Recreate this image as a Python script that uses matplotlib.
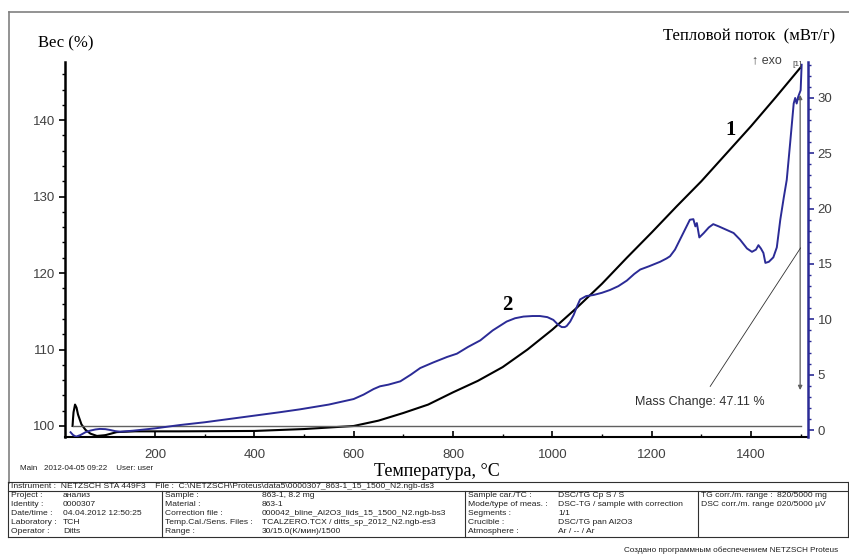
import matplotlib
matplotlib.use("Agg")
import matplotlib.pyplot as plt
from matplotlib.lines import Line2D
from matplotlib.ticker import MultipleLocator

W, H = 849, 557

# ТГ кривая (1), вес %
tg_t = [34, 35, 36, 39, 42, 45, 52, 60, 70, 83, 100, 123, 160, 250, 400, 500,
        600, 650, 700, 750, 800, 850, 900, 950, 1000, 1050, 1100, 1150, 1200,
        1250, 1300, 1350, 1400, 1450, 1500]
tg_w = [100.0, 101.0, 101.8, 102.8, 102.4, 101.5, 100.2, 99.5, 99.0, 98.7, 98.8,
        99.2, 99.3, 99.3, 99.35, 99.6, 100.0, 100.7, 101.7, 102.8, 104.4, 105.9,
        107.7, 110.0, 112.6, 115.5, 118.6, 122.0, 125.3, 128.7, 132.0, 135.6,
        139.2, 143.0, 146.9]

# ДСК кривая (2), тепловой поток мВт/г
dsc_t = [30, 35, 41, 50, 60, 69, 80, 89, 100, 110, 120, 130, 145, 156, 200, 250,
         300, 350, 400, 450, 492, 550, 600, 620, 640, 653, 670, 694, 715, 734,
         760, 788, 808, 830, 855, 880, 908, 925, 942, 960, 975, 990, 1002, 1012,
         1019, 1025, 1029, 1036, 1043, 1050, 1056, 1068, 1083, 1100, 1116, 1133,
         1150, 1165, 1177, 1195, 1217, 1230, 1237, 1247, 1257, 1267, 1277, 1284,
         1288, 1291, 1296, 1305, 1315, 1324, 1335, 1350, 1365, 1378, 1392, 1402,
         1410, 1415, 1420, 1425, 1429, 1436, 1445, 1452, 1459, 1466, 1472, 1479,
         1486, 1489, 1492, 1495, 1500, 1502]
dsc_q = [-0.2, -0.45, -0.6, -0.45, -0.2, -0.06, 0.05, 0.1, 0.08, 0.0, -0.1, -0.15,
         -0.1, -0.06, 0.15, 0.45, 0.7, 1.0, 1.3, 1.6, 1.87, 2.3, 2.8, 3.2, 3.7,
         3.95, 4.1, 4.4, 5.0, 5.6, 6.1, 6.6, 6.9, 7.5, 8.1, 9.0, 9.8, 10.1, 10.25,
         10.3, 10.3, 10.2, 9.95, 9.5, 9.3, 9.3, 9.4, 9.8, 10.4, 11.2, 11.8, 12.1,
         12.2, 12.4, 12.65, 13.0, 13.5, 14.1, 14.5, 14.8, 15.2, 15.5, 15.7, 16.3,
         17.2, 18.1, 19.0, 19.05, 18.4, 18.7, 17.4, 17.8, 18.3, 18.6, 18.4, 18.1,
         17.8, 17.2, 16.4, 16.1, 16.3, 16.7, 16.4, 16.0, 15.1, 15.2, 15.6, 16.5,
         19.0, 21.0, 22.6, 26.0, 29.5, 30.0, 29.5, 30.1, 30.7, 33.0]

mass_change = 47.11

blue = "#2b2b96"
grey_txt = "#404040"
sans = ["Liberation Sans", "DejaVu Sans"]
serif = ["Liberation Serif", "DejaVu Serif"]
plt.rcParams["font.family"] = sans


def fx(x):
    return x / W


def fy(y):
    return 1 - y / H


fig = plt.figure(figsize=(W / 100, H / 100), dpi=100)
ax = fig.add_axes([fx(65), fy(437), (808 - 65) / W, (437 - 62) / H])
ax2 = ax.twinx()

ax.plot(tg_t, tg_w, color="black", lw=1.5)
ax.plot([tg_t[0], 1500], [100, 100], color="#606060", lw=1.0)
ax2.plot(dsc_t, dsc_q, color=blue, lw=1.4)

ax.set_xlim(18.8, 1514.8)
ax.set_ylim(98.56, 147.6)
ax2.set_ylim(-0.63, 33.25)

for a in (ax, ax2):
    a.spines["top"].set_visible(False)
ax.spines["right"].set_visible(False)
ax2.spines["left"].set_visible(False)
ax2.spines["bottom"].set_visible(False)
ax.spines["left"].set_linewidth(1.8)
ax.spines["bottom"].set_linewidth(1.5)
ax2.spines["right"].set_color(blue)
ax2.spines["right"].set_linewidth(1.8)

ax.xaxis.set_major_locator(MultipleLocator(200))
ax.xaxis.set_minor_locator(MultipleLocator(100))
ax.yaxis.set_major_locator(MultipleLocator(10))
ax.yaxis.set_minor_locator(MultipleLocator(2))
ax2.yaxis.set_major_locator(MultipleLocator(5))
ax2.yaxis.set_minor_locator(MultipleLocator(1))
ax.set_xticks([200, 400, 600, 800, 1000, 1200, 1400])

ax.tick_params(axis="x", which="major", direction="in", length=4, width=1.2,
               labelsize=9.5, labelcolor=grey_txt, pad=9)
ax.tick_params(axis="x", which="minor", direction="in", length=2.5, width=1)
ax.tick_params(axis="y", which="major", direction="out", length=4, width=1.2,
               labelsize=9.5, labelcolor=grey_txt, pad=3)
ax.tick_params(axis="y", which="minor", direction="out", length=2.5, width=1)
ax2.tick_params(axis="y", which="major", direction="out", length=4, width=1.2,
                color=blue, labelsize=9.5, labelcolor=grey_txt, pad=3)
ax2.tick_params(axis="y", which="minor", direction="out", length=2.5, width=1,
                color=blue)

ax.set_xlabel("Температура, °C", family=serif, fontsize=13, labelpad=1)

# подписи кривых
ax.text(1358, 138.7, "1", family=serif, fontsize=15, fontweight="bold",
        ha="center", va="center")
ax.text(909, 115.8, "2", family=serif, fontsize=15, fontweight="bold",
        ha="center", va="center")

# изменение массы
ax.annotate("", xy=(1499, 104.7), xytext=(1499, 143.3),
            arrowprops=dict(arrowstyle="<|-|>", color="#606060", lw=0.9,
                            mutation_scale=6, shrinkA=0, shrinkB=0))
ax.annotate("Mass Change: %.2f %%" % mass_change, xy=(1500, 123.3),
            xytext=(1297, 103.1), ha="center", va="center", fontsize=9,
            color="#303030",
            arrowprops=dict(arrowstyle="-", color="#303030", lw=0.6,
                            shrinkA=6, shrinkB=0))

fig.text(fx(38), fy(43), "Вес (%)", family=serif, fontsize=12, va="center")
fig.text(fx(663), fy(36), "Тепловой поток  (мВт/г)", family=serif, fontsize=12,
         va="center")
fig.text(fx(752), fy(60), "↑ exo", fontsize=9, color=grey_txt, va="center")
fig.text(fx(792), fy(65), "[1]", fontsize=6, color=grey_txt, va="center")
fig.text(fx(20), fy(468), "Main   2012-04-05 09:22    User: user", fontsize=5.8,
         color="#202020", va="center")

# рамка
frame = "#808080"
fig.add_artist(Line2D([fx(9), fx(849)], [fy(12), fy(12)], color=frame, lw=1.2))
fig.add_artist(Line2D([fx(9), fx(9)], [fy(12), fy(483)], color=frame, lw=1.2))

# таблица параметров
tbl = "#303030"
fs = 6.1
for y in (482, 491, 537):
    fig.add_artist(Line2D([fx(8), fx(848)], [fy(y), fy(y)], color=tbl, lw=0.8))
for x in (8, 848):
    fig.add_artist(Line2D([fx(x), fx(x)], [fy(482), fy(537)], color=tbl, lw=0.8))
for x in (162, 465, 698):
    fig.add_artist(Line2D([fx(x), fx(x)], [fy(491), fy(537)], color=tbl, lw=0.8))

fig.text(fx(11), fy(486.8), "Instrument :  NETZSCH STA 449F3    File :  "
         r"C:\NETZSCH\Proteus\data5\0000307_863-1_15_1500_N2.ngb-ds3",
         fontsize=fs, color="#202020", va="center")

rows_y = [495.5, 504.5, 513.5, 522.5, 531.5]
col1 = [("Project :", "анализ"), ("Identity :", "0000307"),
        ("Date/time :", "04.04.2012 12:50:25"), ("Laboratory :", "TCH"),
        ("Operator :", "Ditts")]
col2 = [("Sample :", "863-1, 8.2 mg"), ("Material :", "863-1"),
        ("Correction file :", "000042_bline_Al2O3_lids_15_1500_N2.ngb-bs3"),
        ("Temp.Cal./Sens. Files :", "TCALZERO.TCX / ditts_sp_2012_N2.ngb-es3"),
        ("Range :", "30/15.0(K/мин)/1500")]
col3 = [("Sample car./TC :", "DSC/TG Cp S / S"),
        ("Mode/type of meas. :", "DSC-TG / sample with correction"),
        ("Segments :", "1/1"), ("Crucible :", "DSC/TG pan Al2O3"),
        ("Atmosphere :", "Ar / -- / Ar")]
col4 = [("TG corr./m. range :", "820/5000 mg"),
        ("DSC corr./m. range :", "020/5000 µV")]

for col, xl, xv in ((col1, 11, 63), (col2, 165, 262), (col3, 468, 558),
                    (col4, 701, 777)):
    for (lab, val), y in zip(col, rows_y):
        fig.text(fx(xl), fy(y), lab, fontsize=fs, color="#202020", va="center")
        fig.text(fx(xv), fy(y), val, fontsize=fs, color="#202020", va="center")

fig.text(fx(624), fy(550), "Создано программным обеспечением NETZSCH Proteus",
         fontsize=5.9, color="#202020", va="center")

fig.savefig("out.png", dpi=100)
